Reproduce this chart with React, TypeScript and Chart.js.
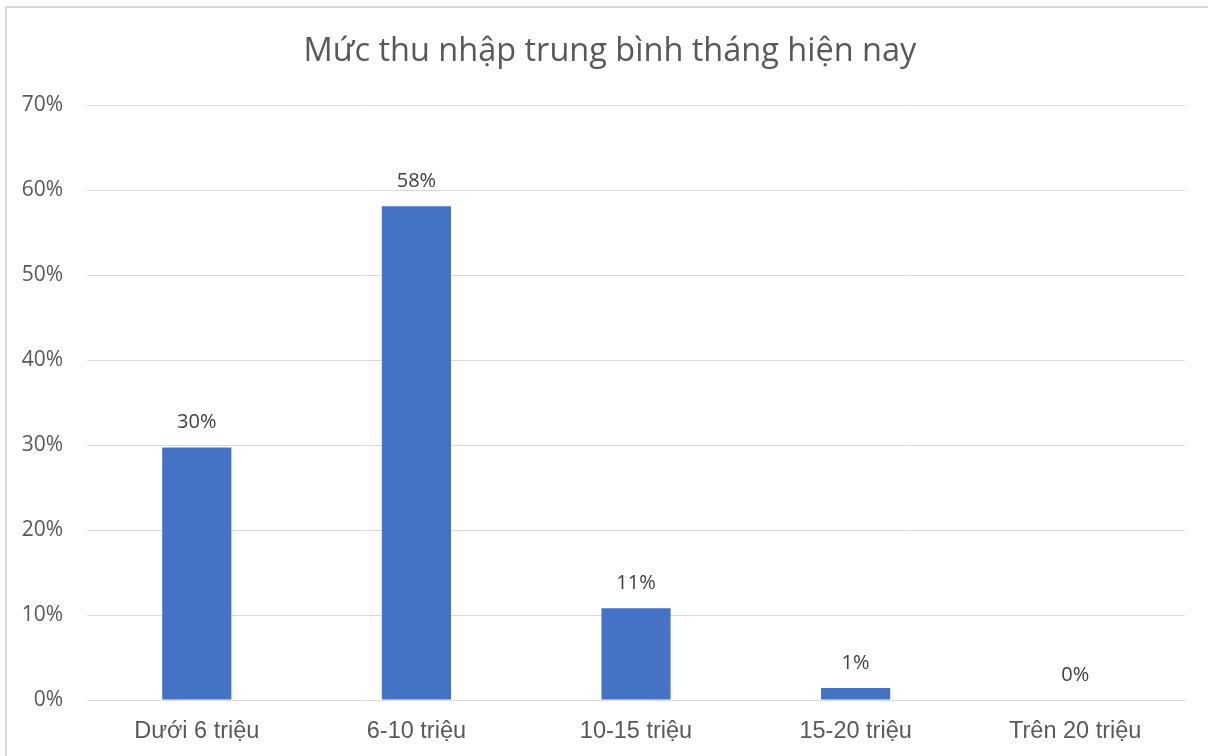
import React, { useEffect, useRef } from "react";
import { Chart, registerables } from "chart.js";

Chart.register(...registerables);

const TITLE = "Mức thu nhập trung bình tháng hiện nay";
const categories = ["Dưới 6 triệu", "6-10 triệu", "10-15 triệu", "15-20 triệu", "Trên 20 triệu"];
const values = [29.7, 58.1, 10.8, 1.4, 0];
const valueLabels = ["30%", "58%", "11%", "1%", "0%"];
const yTicks = [0, 10, 20, 30, 40, 50, 60, 70];

const TEXT = "#595959";
const FONT = "'Open Sans', 'Noto Sans', sans-serif";

export default function App() {
  const ref = useRef<HTMLCanvasElement | null>(null);

  useEffect(() => {
    document.body.style.margin = "0";
    const canvas = ref.current!;
    const titlePlugin = {
      id: "customTitle",
      afterDraw(chart: any) {
        const ctx = chart.ctx;
        ctx.save();
        ctx.fillStyle = TEXT;
        ctx.font = `32.5px ${FONT}`;
        ctx.textAlign = "center";
        ctx.textBaseline = "middle";
        ctx.fillText(TITLE, 610, 52);
        ctx.restore();
      },
    };
    const labelPlugin = {
      id: "valueLabels",
      afterDatasetsDraw(chart: any) {
        const ctx = chart.ctx;
        const meta = chart.getDatasetMeta(0);
        ctx.save();
        ctx.fillStyle = "#404040";
        ctx.font = `20px ${FONT}`;
        ctx.textAlign = "center";
        ctx.textBaseline = "middle";
        meta.data.forEach((bar: any, i: number) => {
          ctx.fillText(valueLabels[i], bar.x, bar.y - 25);
        });
        ctx.restore();
      },
    };
    const chart = new Chart(canvas, {
      type: "bar",
      data: {
        labels: categories,
        datasets: [
          {
            data: values,
            backgroundColor: "#4472C4",
            barPercentage: 1,
            categoryPercentage: 0.315,
          },
        ],
      },
      options: {
        animation: false,
        responsive: false,
        maintainAspectRatio: false,
        layout: { padding: { top: 105, right: 23, left: 0, bottom: 0 } },
        plugins: {
          legend: { display: false },
          title: { display: false },
          tooltip: { enabled: false },
        },
        scales: {
          x: {
            grid: { display: false, drawTicks: false },
            border: { display: true, color: "#d9d9d9", width: 1 },
            ticks: {
              color: TEXT,
              font: { family: "'Liberation Sans', Arial, sans-serif", size: 23.5 },
              padding: 17,
              maxRotation: 0,
            },
            afterFit(scale: any) {
              scale.height = 56;
            },
          },
          y: {
            min: 0,
            max: 70,
            afterBuildTicks(scale: any) {
              scale.ticks = yTicks.map((v) => ({ value: v }));
            },
            grid: { color: "#d9d9d9", lineWidth: 1, drawTicks: false },
            border: { display: false },
            ticks: {
              color: TEXT,
              font: { family: FONT, size: 21 },
              padding: 24,
              callback: (v: any) => `${v}%`,
            },
            afterFit(scale: any) {
              scale.width = 87;
            },
          },
        },
      },
      plugins: [titlePlugin, labelPlugin],
    });
    return () => chart.destroy();
  }, []);

  return (
    <div
      style={{
        position: "absolute",
        left: 0,
        top: 0,
        width: 1208,
        height: 756,
        overflow: "hidden",
        background: "#fff",
      }}
    >
      <div
        style={{
          position: "absolute",
          left: 5,
          top: 6,
          width: 1300,
          height: 900,
          border: "2px solid #d9d9d9",
          boxSizing: "border-box",
        }}
      />
      <canvas
        ref={ref}
        width={1208}
        height={756}
        style={{ position: "absolute", left: 0, top: 0, width: 1208, height: 756 }}
      />
    </div>
  );
}
